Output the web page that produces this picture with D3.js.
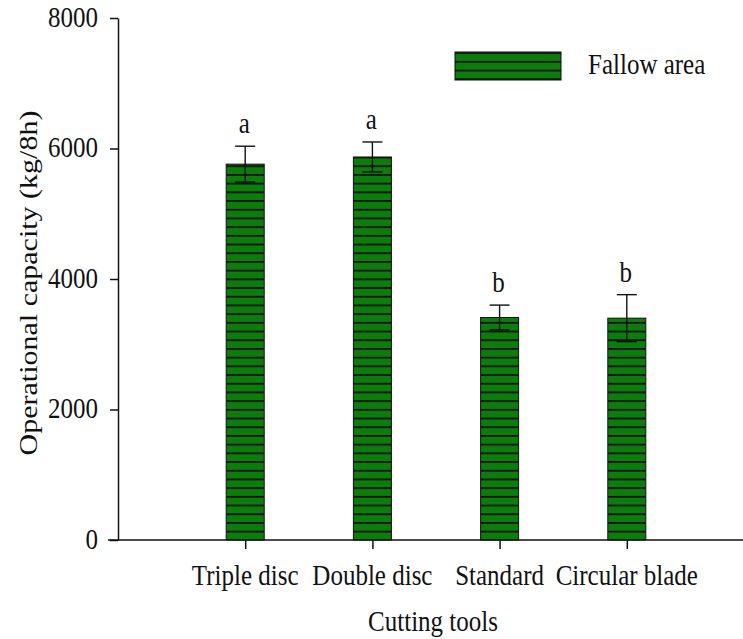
<!DOCTYPE html>
<html>
<head>
<meta charset="utf-8">
<script src="https://cdn.jsdelivr.net/npm/d3@7"></script>
<style>
  body { margin: 0; background: #fff; }
  text { font-family: "Liberation Serif", "Times New Roman", serif; fill: #111; }
</style>
</head>
<body>
<div id="chart"></div>
<script>
var categories = ["Triple disc", "Double disc", "Standard", "Circular blade"];
var means = [5760, 5870, 3410, 3400];
var errors = [275, 230, 190, 360];
var letters = ["a", "a", "b", "b"];
var yTicks = [0, 2000, 4000, 6000, 8000];
var seriesName = "Fallow area";

var width = 743, height = 639;
var stretch = 1.2; // glyphs in the reference are taller than wide

var svg = d3.select("#chart").append("svg")
    .attr("width", width)
    .attr("height", height);

// hatch: black horizontal lines on green
var defs = svg.append("defs");
var pat = defs.append("pattern")
    .attr("id", "hatch")
    .attr("patternUnits", "userSpaceOnUse")
    .attr("width", 10)
    .attr("height", 8.7);
pat.append("rect").attr("width", 10).attr("height", 8.7).attr("fill", "#0b7d0b");
pat.append("rect").attr("y", 0).attr("width", 10).attr("height", 1.8).attr("fill", "#111");

var x = d3.scaleLinear().domain([0, 5]).range([118, 118 + 5 * 127.2]);
var y = d3.scaleLinear().domain([0, 8000]).range([540, 18]);

function sText(g, tx, ty, str, anchor, rot) {
  var t = g.append("g")
      .attr("transform", "translate(" + tx + "," + ty + ") scale(1," + stretch + ")" + (rot ? " rotate(" + rot + ")" : ""));
  return t.append("text")
      .attr("text-anchor", anchor)
      .style("font-size", "25px")
      .text(str);
}

// y axis
var yAxis = svg.append("g")
    .attr("transform", "translate(118,0)")
    .call(d3.axisLeft(y).tickValues(yTicks).tickSize(8).tickSizeOuter(0).tickFormat(""));
yAxis.selectAll("path, line").attr("stroke", "#111").attr("stroke-width", 1.5);
yTicks.forEach(function (v) {
  sText(svg, 98, y(v) + 8.5, String(v), "end");
});

// x axis
var xAxis = svg.append("g")
    .attr("transform", "translate(0,540)")
    .call(d3.axisBottom(x).tickValues([1, 2, 3, 4]).tickSize(9).tickSizeOuter(0).tickFormat(""));
xAxis.select("path").attr("d", "M108,0H743");
xAxis.selectAll("path, line").attr("stroke", "#111").attr("stroke-width", 1.5);
categories.forEach(function (c, i) {
  sText(svg, x(i + 1), 585, c, "middle");
});

// bars
var barW = 38;
svg.selectAll(".bar")
    .data(means)
  .enter().append("rect")
    .attr("class", "bar")
    .attr("x", function (d, i) { return x(i + 1) - barW / 2; })
    .attr("y", function (d) { return y(d); })
    .attr("width", barW)
    .attr("height", function (d) { return y(0) - y(d); })
    .attr("fill", "url(#hatch)")
    .attr("stroke", "#111")
    .attr("stroke-width", 1);

// error bars
var capW = 20;
var eb = svg.selectAll(".err")
    .data(means)
  .enter().append("g")
    .attr("class", "err")
    .attr("stroke", "#111")
    .attr("stroke-width", 1.4);
eb.append("line")
    .attr("x1", function (d, i) { return x(i + 1); })
    .attr("x2", function (d, i) { return x(i + 1); })
    .attr("y1", function (d, i) { return y(d - errors[i]); })
    .attr("y2", function (d, i) { return y(d + errors[i]); });
eb.append("line")
    .attr("x1", function (d, i) { return x(i + 1) - capW / 2; })
    .attr("x2", function (d, i) { return x(i + 1) + capW / 2; })
    .attr("y1", function (d, i) { return y(d + errors[i]); })
    .attr("y2", function (d, i) { return y(d + errors[i]); });
eb.append("line")
    .attr("x1", function (d, i) { return x(i + 1) - capW / 2; })
    .attr("x2", function (d, i) { return x(i + 1) + capW / 2; })
    .attr("y1", function (d, i) { return y(d - errors[i]); })
    .attr("y2", function (d, i) { return y(d - errors[i]); });

// significance letters
means.forEach(function (d, i) {
  sText(svg, x(i + 1) - 1, y(d + errors[i]) - 13, letters[i], "middle");
});

// axis titles
sText(svg, 433, 631, "Cutting tools", "middle");
sText(svg, 37, 283, "Operational capacity (kg/8h)", "middle", -90);

// legend
svg.append("rect")
    .attr("x", 455)
    .attr("y", 52)
    .attr("width", 106)
    .attr("height", 28)
    .attr("fill", "url(#hatch)")
    .attr("stroke", "#111")
    .attr("stroke-width", 1);
sText(svg, 588, 74, seriesName, "start");
</script>
</body>
</html>
